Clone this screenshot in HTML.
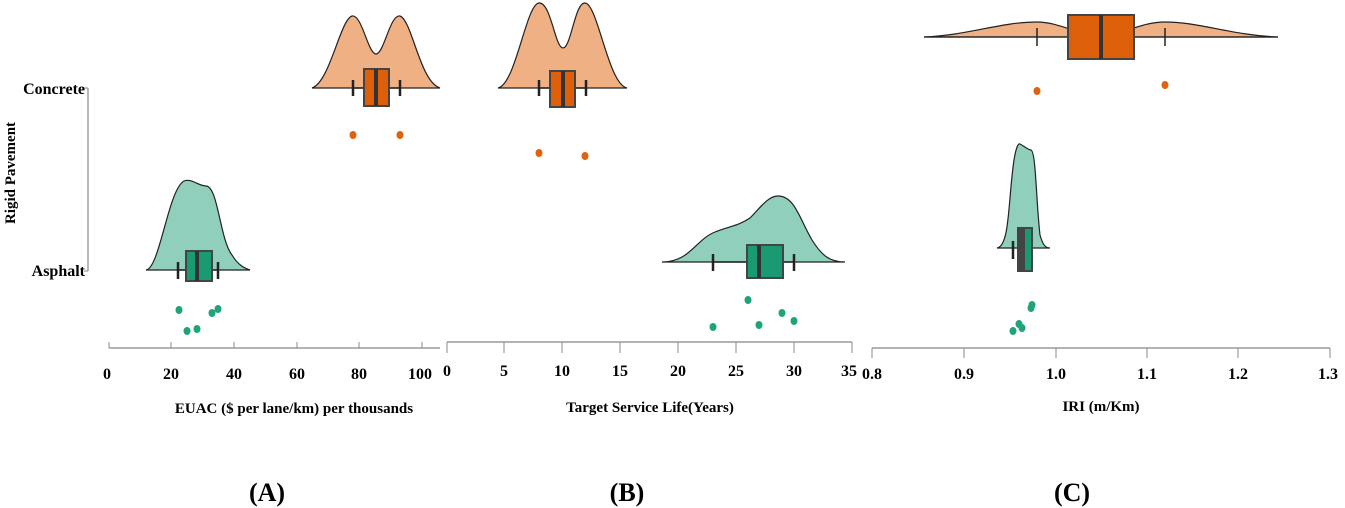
<!DOCTYPE html>
<html><head><meta charset="utf-8"><style>
html,body{margin:0;padding:0;background:#fff;}
svg{display:block;font-family:"Liberation Serif",serif;font-weight:bold;}
</style></head><body>
<svg width="1345" height="508" viewBox="0 0 1345 508" xmlns="http://www.w3.org/2000/svg">
<g fill="#000">
<line x1="88" y1="88" x2="88" y2="271" stroke="#888" stroke-width="1.2"/>
<line x1="84" y1="88" x2="88" y2="88" stroke="#888"/>
<line x1="84" y1="271" x2="88" y2="271" stroke="#888"/>
<text x="85" y="94" font-size="16" text-anchor="end">Concrete</text>
<text x="85" y="276" font-size="16" text-anchor="end">Asphalt</text>
<text transform="translate(15,173) rotate(-90)" font-size="15" text-anchor="middle">Rigid Pavement</text>

<!-- Panel A -->
<path d="M312,88 C330,82 340,20 352,16 C362,14 368,54 376,54 C384,54 390,14 400,16 C412,20 420,82 440,88 Z" fill="#efb083" stroke="#222" stroke-width="1.2"/>
<line x1="353" y1="88" x2="400" y2="88" stroke="#222" stroke-width="1.5"/>
<line x1="353" y1="80" x2="353" y2="96" stroke="#222" stroke-width="2.5"/>
<line x1="400" y1="80" x2="400" y2="96" stroke="#222" stroke-width="2.5"/>
<rect x="364" y="69" width="25" height="37" fill="#dd5f0a" stroke="#444" stroke-width="2"/>
<line x1="376" y1="69" x2="376" y2="106" stroke="#333" stroke-width="4"/>
<g fill="#e0620e"><ellipse cx="353" cy="135" rx="3.5" ry="4"/><ellipse cx="400" cy="135" rx="3.5" ry="4"/></g>

<path d="M146,270 C160,268 168,190 184,181 C192,178 198,186 206,186 C218,186 220,240 232,255 C238,265 244,268 250,270 Z" fill="#8fcfbc" stroke="#222" stroke-width="1.2"/>
<line x1="178" y1="270" x2="218" y2="270" stroke="#222" stroke-width="1.5"/>
<line x1="178" y1="262" x2="178" y2="279" stroke="#222" stroke-width="2.5"/>
<line x1="218" y1="262" x2="218" y2="279" stroke="#222" stroke-width="2.5"/>
<rect x="186" y="251" width="26" height="30" fill="#1a9a72" stroke="#444" stroke-width="2"/>
<line x1="197" y1="251" x2="197" y2="281" stroke="#333" stroke-width="4"/>
<g fill="#1ea37b"><ellipse cx="179" cy="310" rx="3.5" ry="4"/><ellipse cx="218" cy="309" rx="3.5" ry="4"/><ellipse cx="212" cy="313" rx="3.5" ry="4"/><ellipse cx="187" cy="331" rx="3.5" ry="4"/><ellipse cx="197" cy="329" rx="3.5" ry="4"/></g>

<line x1="109" y1="348" x2="440" y2="348" stroke="#888" stroke-width="1.2"/>
<g stroke="#888"><line x1="109" y1="342" x2="109" y2="348"/><line x1="171" y1="342" x2="171" y2="348"/><line x1="234" y1="342" x2="234" y2="348"/><line x1="297" y1="342" x2="297" y2="348"/><line x1="359" y1="342" x2="359" y2="348"/><line x1="422" y1="342" x2="422" y2="348"/></g>
<g font-size="16" text-anchor="middle"><text x="107" y="379">0</text><text x="171" y="379">20</text><text x="234" y="379">40</text><text x="297" y="379">60</text><text x="359" y="379">80</text><text x="420" y="379">100</text></g>
<text x="294" y="413" font-size="15" text-anchor="middle">EUAC ($ per lane/km) per thousands</text>

<!-- Panel B -->
<path d="M498,88 C516,84 526,4 539,3 C551,2 555,48 563,48 C571,48 575,2 585,3 C598,4 608,84 627,88 Z" fill="#efb083" stroke="#222" stroke-width="1.2"/>
<line x1="539" y1="88" x2="586" y2="88" stroke="#222" stroke-width="1.5"/>
<line x1="539" y1="80" x2="539" y2="96" stroke="#222" stroke-width="2.5"/>
<line x1="586" y1="80" x2="586" y2="96" stroke="#222" stroke-width="2.5"/>
<rect x="550" y="71" width="25" height="36" fill="#dd5f0a" stroke="#444" stroke-width="2"/>
<line x1="563" y1="71" x2="563" y2="107" stroke="#333" stroke-width="4"/>
<g fill="#e0620e"><ellipse cx="539" cy="153" rx="3.5" ry="4"/><ellipse cx="585" cy="156" rx="3.5" ry="4"/></g>

<path d="M662,262 C690,262 695,240 715,232 C730,226 738,226 750,218 C760,208 768,196 778,196 C795,196 800,220 812,240 C822,256 830,262 845,262 Z" fill="#8fcfbc" stroke="#222" stroke-width="1.2"/>
<line x1="713" y1="262" x2="794" y2="262" stroke="#222" stroke-width="1.5"/>
<line x1="713" y1="254" x2="713" y2="271" stroke="#222" stroke-width="2.5"/>
<line x1="794" y1="254" x2="794" y2="271" stroke="#222" stroke-width="2.5"/>
<rect x="747" y="245" width="36" height="33" fill="#1a9a72" stroke="#444" stroke-width="2"/>
<line x1="759" y1="245" x2="759" y2="278" stroke="#333" stroke-width="4"/>
<g fill="#1ea37b"><ellipse cx="748" cy="300" rx="3.5" ry="4"/><ellipse cx="782" cy="313" rx="3.5" ry="4"/><ellipse cx="794" cy="321" rx="3.5" ry="4"/><ellipse cx="713" cy="327" rx="3.5" ry="4"/><ellipse cx="759" cy="325" rx="3.5" ry="4"/></g>

<line x1="447" y1="342" x2="852" y2="342" stroke="#888" stroke-width="1.2"/>
<g stroke="#888"><line x1="447" y1="342" x2="447" y2="353"/><line x1="504" y1="342" x2="504" y2="353"/><line x1="562" y1="342" x2="562" y2="353"/><line x1="620" y1="342" x2="620" y2="353"/><line x1="678" y1="342" x2="678" y2="353"/><line x1="736" y1="342" x2="736" y2="353"/><line x1="794" y1="342" x2="794" y2="353"/><line x1="852" y1="342" x2="852" y2="353"/></g>
<g font-size="16" text-anchor="middle"><text x="447" y="376">0</text><text x="504" y="376">5</text><text x="562" y="376">10</text><text x="620" y="376">15</text><text x="678" y="376">20</text><text x="736" y="376">25</text><text x="794" y="376">30</text><text x="849" y="376">35</text></g>
<text x="650" y="412" font-size="15" text-anchor="middle">Target Service Life(Years)</text>

<!-- Panel C -->
<path d="M924,37 C970,35 1000,22 1037,22 C1060,22 1080,36 1101,36 C1120,36 1140,22 1165,22 C1200,22 1230,35 1278,37 Z" fill="#efb083" stroke="#222" stroke-width="1.2"/>
<line x1="924" y1="37" x2="1278" y2="37" stroke="#222" stroke-width="1.2"/>
<line x1="1037" y1="28" x2="1037" y2="46" stroke="#222" stroke-width="1.5"/>
<line x1="1165" y1="28" x2="1165" y2="46" stroke="#222" stroke-width="1.5"/>
<rect x="1068" y="15" width="66" height="44" fill="#dd5f0a" stroke="#444" stroke-width="2"/>
<line x1="1101" y1="15" x2="1101" y2="59" stroke="#333" stroke-width="4"/>
<g fill="#e0620e"><ellipse cx="1037" cy="91" rx="3.5" ry="4"/><ellipse cx="1165" cy="85" rx="3.5" ry="4"/></g>

<path d="M997,248 C1010,246 1008,200 1014,160 C1016,148 1018,143 1020,144 C1024,146 1028,150 1031,150 C1036,152 1036,200 1040,235 C1043,246 1046,248 1050,248 Z" fill="#8fcfbc" stroke="#222" stroke-width="1.2"/>
<line x1="1013" y1="241" x2="1013" y2="259" stroke="#222" stroke-width="2.5"/>
<rect x="1018" y="228" width="14" height="43" fill="#1a9a72" stroke="#444" stroke-width="2"/>
<rect x="1018" y="228" width="7" height="43" fill="#444"/>
<g fill="#1ea37b"><ellipse cx="1032" cy="305" rx="3.5" ry="4"/><ellipse cx="1031" cy="308" rx="3.5" ry="4"/><ellipse cx="1019" cy="324" rx="3.5" ry="4"/><ellipse cx="1022" cy="328" rx="3.5" ry="4"/><ellipse cx="1013" cy="331" rx="3.5" ry="4"/></g>

<line x1="872" y1="348" x2="1330" y2="348" stroke="#888" stroke-width="1.2"/>
<g stroke="#888"><line x1="872" y1="348" x2="872" y2="358"/><line x1="964" y1="348" x2="964" y2="358"/><line x1="1056" y1="348" x2="1056" y2="358"/><line x1="1147" y1="348" x2="1147" y2="358"/><line x1="1238" y1="348" x2="1238" y2="358"/><line x1="1330" y1="348" x2="1330" y2="358"/></g>
<g font-size="16" text-anchor="middle"><text x="872" y="379">0.8</text><text x="964" y="379">0.9</text><text x="1056" y="379">1.0</text><text x="1147" y="379">1.1</text><text x="1238" y="379">1.2</text><text x="1328" y="379">1.3</text></g>
<text x="1101" y="411" font-size="15" text-anchor="middle">IRI (m/Km)</text>

<g font-size="26" text-anchor="middle"><text x="267" y="501">(A)</text><text x="627" y="501">(B)</text><text x="1072" y="501">(C)</text></g>
</g>
</svg>
</body></html>
